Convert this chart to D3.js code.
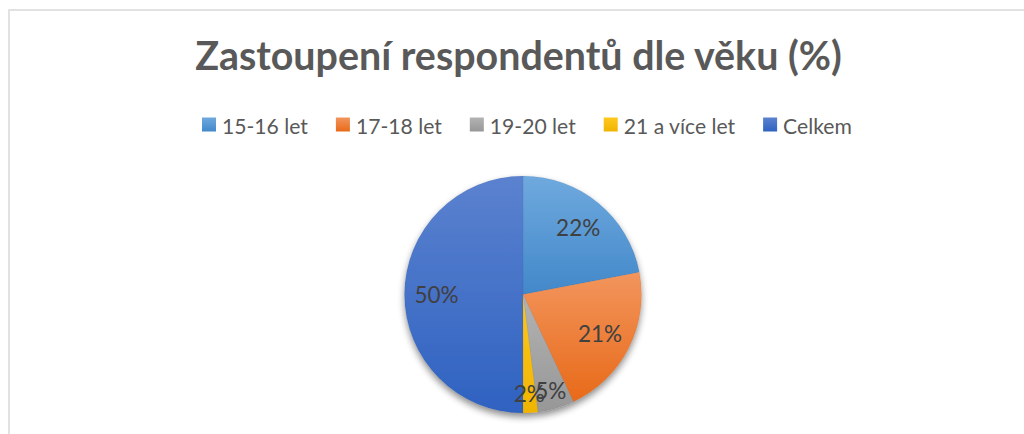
<!DOCTYPE html>
<html>
<head>
<meta charset="utf-8">
<script src="https://cdn.jsdelivr.net/npm/d3@7"></script>
<style>
  html, body { margin: 0; padding: 0; background: #ffffff; }
  svg { display: block; }
  text { font-family: "Lato", "Liberation Sans", sans-serif; }
</style>
</head>
<body>
<svg id="chart" width="1024" height="434"></svg>
<script>
// ---- data ----
const title = "Zastoupení respondentů dle věku (%)";
const categories = ["15-16 let", "17-18 let", "19-20 let", "21 a více let", "Celkem"];
const values = [22, 21, 5, 2, 50];
const colorsTop = ["#6fa9de", "#f2955d", "#b3b3b3", "#ffc81f", "#5b82cf"];
const colorsBottom = ["#4288ca", "#e86a19", "#979797", "#f0b400", "#2f62c1"];

// ---- layout ----
const W = 1024, H = 434;
const cx = 523, cy = 294.5, R = 118.5;
const svg = d3.select("#chart");
const defs = svg.append("defs");

// border
svg.append("rect")
  .attr("x", 9).attr("y", 10)
  .attr("width", 1200).attr("height", 1000)
  .attr("fill", "#ffffff")
  .attr("stroke", "#d9d9d9").attr("stroke-width", 1.5);

// title, fitted to target width
const titleEl = svg.append("text")
  .attr("x", (195 + 842) / 2).attr("y", 70)
  .attr("text-anchor", "middle")
  .attr("font-weight", "bold")
  .attr("fill", "#595959")
  .attr("font-size", 36)
  .text(title);
{
  const w = titleEl.node().getComputedTextLength();
  titleEl.attr("font-size", 36 * 647 / w);
}

// gradients
categories.forEach((c, i) => {
  const g = defs.append("linearGradient")
    .attr("id", "grad" + i)
    .attr("x1", 0).attr("y1", 0).attr("x2", 0).attr("y2", 1);
  g.append("stop").attr("offset", "0%").attr("stop-color", colorsTop[i]);
  g.append("stop").attr("offset", "100%").attr("stop-color", colorsBottom[i]);
});

// shadow filter
const f = defs.append("filter").attr("id", "shadow")
  .attr("x", "-20%").attr("y", "-20%").attr("width", "140%").attr("height", "140%");
f.append("feGaussianBlur").attr("in", "SourceAlpha").attr("stdDeviation", 3.5);
f.append("feOffset").attr("dx", 0).attr("dy", 4).attr("result", "ob");
f.append("feComponentTransfer").append("feFuncA").attr("type", "linear").attr("slope", 0.45);
const m = f.append("feMerge");
m.append("feMergeNode");
m.append("feMergeNode").attr("in", "SourceGraphic");

// legend
const legendY = 124.5;
const sq = 14, gapSqText = 6, gapItems = 28;
const legend = svg.append("g");
const legendTexts = [];
categories.forEach((c, i) => {
  const t = legend.append("text")
    .attr("font-size", 20)
    .attr("fill", "#595959")
    .attr("dominant-baseline", "central")
    .text(c);
  legendTexts.push(t);
});
{
  let tw = 0;
  legendTexts.forEach(t => tw += t.node().getComputedTextLength());
  const targetText = 650 - categories.length * (sq + gapSqText) - (categories.length - 1) * gapItems;
  const fs = 20 * targetText / tw;
  legendTexts.forEach(t => t.attr("font-size", fs));
  let x = 202;
  categories.forEach((c, i) => {
    legend.append("rect")
      .attr("x", x).attr("y", legendY - sq / 2)
      .attr("width", sq).attr("height", sq)
      .attr("fill", "url(#grad" + i + ")");
    legendTexts[i].attr("x", x + sq + gapSqText).attr("y", legendY + 1);
    x += sq + gapSqText + legendTexts[i].node().getComputedTextLength() + gapItems;
  });
}

// pie
const total = d3.sum(values);
const pie = d3.pie().sort(null).value(d => d)(values);
const arc = d3.arc().innerRadius(0).outerRadius(R);
const pg = svg.append("g").attr("transform", `translate(${cx},${cy})`);
const slices = pg.append("g").attr("filter", "url(#shadow)");
slices.selectAll("path")
  .data(pie)
  .join("path")
  .attr("d", arc)
  .attr("fill", (d, i) => "url(#grad" + i + ")")
  .attr("stroke", "rgba(0,0,0,0.06)")
  .attr("stroke-width", 0.8);

// labels
pg.selectAll("text.lbl")
  .data(pie)
  .join("text")
  .attr("class", "lbl")
  .attr("transform", d => {
    const a = (d.startAngle + d.endAngle) / 2;
    const share = d.value / total;
    const r = share < 0.1 ? R * 0.84 : R * 0.73;
    return `translate(${r * Math.sin(a)},${-r * Math.cos(a)})`;
  })
  .attr("text-anchor", "middle")
  .attr("dominant-baseline", "central")
  .attr("font-size", 22.5)
  .attr("fill", "#404040")
  .text(d => Math.round(d.value / total * 100) + "%");
</script>
</body>
</html>
